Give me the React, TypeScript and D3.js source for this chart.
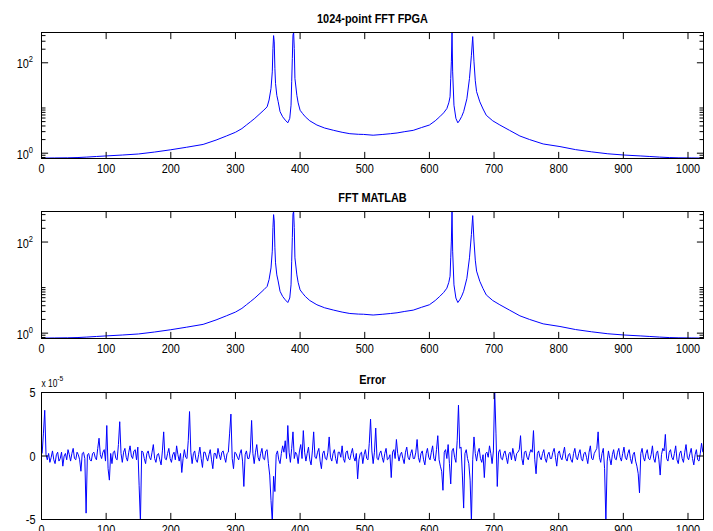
import React from 'react';
import * as d3 from 'd3';

const W = 713;
const H = 531;

// spectrum magnitude (sample index, |X|)
const specIdx = [
  1, 20, 40, 55, 70, 85, 100, 125, 150, 175, 200, 224, 250, 270, 286, 300, 310, 317, 323, 330,
  338, 344, 349, 352, 355, 357, 358, 359, 360, 361, 362, 364, 366, 369, 373, 377, 381, 384, 386, 387,
  388, 389, 390, 391, 392, 395, 397, 400, 404, 408, 415, 426, 438, 452, 465, 477, 490, 498, 513,
  528, 540, 550, 562, 575, 588, 600, 609, 616, 622, 627, 630, 632, 633, 634, 635, 636, 638, 641, 644,
  647, 650, 653, 658, 662, 665, 667, 669, 671, 673, 678, 683, 688, 698, 709, 724, 740, 755, 776, 802,
  826, 851, 876, 901, 926, 941, 956, 971, 986, 1006, 1024,
];
const specMag = [
  0.78, 0.785, 0.79, 0.8, 0.82, 0.845, 0.87, 0.91, 0.96, 1.06, 1.19, 1.35, 1.56, 1.95, 2.4, 2.9, 3.5, 4.2, 4.9, 5.9,
  7.5, 9, 10.6, 15, 27, 63, 207, 400, 290, 75, 35, 19, 14, 8.3, 6.4, 5.4, 4.7, 5.9, 11.5, 38,
  125, 410, 470, 207, 45, 19, 13, 8.9, 7.5, 6.4, 5.2, 4.2, 3.6, 3.2, 2.9, 2.7, 2.62, 2.6, 2.5,
  2.6, 2.7, 2.8, 3.0, 3.2, 3.7, 4.2, 5.2, 6.4, 7.8, 9.7, 13, 17.7, 45, 105, 470, 63, 11.5, 5.9, 4.7,
  5.4, 6.5, 8.3, 16, 45, 147, 380, 105, 40, 23, 13.7, 9.5, 6.9, 5.2, 4.2, 3.2, 2.4, 2.0, 1.6, 1.4,
  1.2, 1.07, 0.97, 0.91, 0.87, 0.845, 0.82, 0.8, 0.79, 0.785, 0.78,
];

// FPGA - MATLAB error in units of 1e-5, one reading every 2 samples from sample 1
const errStep = 2;
const errVals = [
  0.2, 1.8, 3.6, 0.1, -0.3, 0.2, -0.5, -0.1, 0.4, -0.3, -0.6, 0.1, 0.3, -0.4, -0.2, 0.3, -0.8, 0.0, 0.2, -0.3, 0.5, 0.1, -0.4, 0.2, 0.6, -0.2, -0.3, 0.3, 0.1, -0.3, -1.2, 0.2,
  0.3, -0.2, -4.5, 0.1, 0.2, -0.3, -0.4, 0.2, 0.3, -0.1, -0.3, 0.6, 1.4, 0.1, -0.2, 0.3, 0.5, -0.4, 2.4, -1.0, -1.9, 0.2, -0.6, 0.3, 0.4, -0.2, -0.3, 0.9, 2.7, 0.2, -0.5, 0.3,
  0.6, -0.1, -0.4, 0.3, 0.8, 0.0, -0.2, 0.4, 0.5, -0.3, 0.7, -2.3, -5.2, 0.4, 0.3, -0.2, -0.6, 0.2, 0.4, -0.1, -0.3, 0.3, 0.9, -0.2, -0.5, 0.1, 0.2, -0.3, -0.7, 0.4, 1.9, -0.2,
  -0.3, 0.2, 0.6, -0.2, -0.5, 0.1, 0.3, -0.3, 0.8, 0.1, -0.4, 0.2, -1.3, -0.2, 0.5, -0.1, -0.2, 1.2, 3.5, 0.3, -0.6, 0.2, 0.4, -0.3, -0.5, 0.1, 0.7, -0.2, -0.9, 0.3, 0.3, -0.1,
  -0.4, 0.1, 0.5, -0.3, -1.0, 0.2, 0.2, -0.2, 0.6, 0.1, -0.3, 0.3, 0.4, -0.1, -0.5, 0.2, 0.3, 1.8, 3.3, -0.2, -1.0, 0.3, 0.2, -0.1, -0.3, 0.2, 0.5, -0.4, -2.4, 0.1, 0.4, -0.2,
  -0.2, 0.4, 2.8, 0.2, -0.6, 0.3, 0.9, -0.1, -0.4, 0.2, 0.6, -0.2, -0.3, 0.4, 0.5, -0.6, -1.5, -3.5, -5.2, -1.6, -2.8, 0.1, 0.4, -0.3, -0.6, 0.2, 0.8, 0.3, 1.2, -0.2, 2.4, 0.3,
  -0.5, 0.6, 1.9, -0.2, 0.3, 0.1, -0.6, 0.4, 0.9, -0.2, 2.0, 0.3, -0.4, 0.2, 0.7, -0.3, -0.7, 0.4, 1.9, -0.1, -0.2, 0.3, 0.6, -0.4, -1.0, 0.2, 0.4, -0.2, -0.3, 0.3, 1.5, -0.1,
  -0.4, 0.2, 0.5, -0.2, -0.6, 0.3, 0.3, -0.1, 0.8, -0.2, -0.5, 0.3, 0.4, -0.2, -0.3, 0.2, 0.6, -0.1, -0.4, 0.2, -1.8, -0.3, 0.2, 0.3, -0.6, 0.1, 0.5, -0.2, -0.3, 1.0, 2.9, 0.4,
  -0.6, 0.3, 2.2, -0.2, -0.3, 0.2, 0.4, -0.1, -0.5, 0.2, 0.6, -0.3, -0.2, 0.1, -1.7, 0.3, 0.5, -0.2, 1.3, 0.2, -0.4, 0.1, 0.3, -0.2, -0.6, 0.3, 0.7, -0.1, -0.3, 0.2, 0.5, -0.2,
  -0.2, 0.3, 1.3, -0.1, -0.5, 0.2, 0.4, -0.3, -0.7, 0.2, 0.6, -0.1, -0.3, 0.3, 0.8, -0.2, -0.4, 0.5, 1.6, -0.3, -0.8, -1.2, -2.7, 0.3, 0.5, -0.2, 0.9, -0.6, -2.2, 0.4, 0.6, -0.1,
  -0.5, 1.2, 4.0, 0.6, 0.7, -1.5, -4.1, 0.2, 0.5, -0.2, -0.6, -1.9, -5.2, -0.3, 1.5, 0.2, -0.4, 0.3, 0.6, -0.2, -0.5, 0.1, -1.7, 0.2, 0.3, -0.1, 0.8, 0.2, -0.6, 0.4, 5.2, 1.8,
  -2.4, 0.3, 0.5, -0.2, -0.3, 0.2, 0.4, -0.1, -0.6, 0.2, 0.3, -0.3, 0.6, 0.1, -0.4, 0.2, 0.3, 0.5, 1.6, -0.2, -0.7, 0.3, 0.4, -0.1, -0.3, 0.2, 0.5, 0.3, 2.0, -0.3, -1.4, 0.2,
  0.4, -0.1, -0.3, 0.2, 0.5, -0.2, -0.5, 0.1, 0.3, -0.2, -0.2, 0.3, 0.6, -0.1, -0.8, 0.2, 0.4, -0.1, -0.3, 0.2, 0.7, -0.2, -0.4, 0.1, 0.2, -0.3, -0.5, 0.2, 0.6, -0.1, -0.3, 0.2,
  0.5, -0.2, -0.4, 0.2, 0.3, -0.1, -0.6, 0.3, 0.8, -0.2, -0.3, 0.2, 0.4, 0.6, 1.9, -0.1, -0.5, 0.2, 0.6, -1.0, -5.2, -0.4, 0.4, -0.2, -0.7, 0.1, 0.5, -0.2, -0.3, 0.3, 0.6, -0.1,
  -0.4, 0.2, 0.7, -0.1, -0.3, 0.2, 0.5, -0.2, -0.6, 0.1, 0.3, -0.4, -0.8, -1.4, -2.9, 0.2, 0.6, -0.1, -0.4, 0.2, 0.5, -0.2, -0.3, 0.1, 0.8, -0.2, -0.5, 0.2, 0.4, -0.3, -1.5, 0.1,
  0.6, 0.4, 1.7, -0.2, -0.4, 0.3, 0.5, -0.1, -0.3, 0.2, 0.8, -0.3, -0.6, 0.2, 0.4, -0.2, -0.5, 0.3, 0.9, -0.1, -0.3, 0.2, 0.6, -0.2, -0.7, 0.1, 0.5, -0.3, -0.4, 0.2, 1.0, 0.3,
];

const xTicks = [0, 100, 200, 300, 400, 500, 600, 700, 800, 900, 1000];
const logMajor = [1, 100];
const logMajorExp = ['0', '2'];
const logMinor = [0.8, 0.9, 2, 3, 4, 5, 6, 7, 8, 9, 10, 200, 300, 400];
const errTicks = [-5, 0, 5];

const FONT = '"Liberation Sans", Arial, Helvetica, sans-serif';
const SQ = 0.84; // labels in the picture are narrower than Arial
const LINE = '#0000ff';

const L = 41.5;
const R = 703.5;
const MAJ = 6.6;
const MIN = 4;

const x = d3.scaleLinear().domain([0, 1024]).range([L, R]);

const Txt = ({ x, y, anchor = 'middle', size = 13, bold = false, children }: any) => (
  <text
    transform={`translate(${x},${y}) scale(${SQ},1)`}
    textAnchor={anchor}
    fontSize={size}
    fontWeight={bold ? 'bold' : 'normal'}
    fontFamily={FONT}
    fill="#000"
  >
    {children}
  </text>
);

const XAxis = ({ top, bottom }: { top: number; bottom: number }) => (
  <g>
    {xTicks.map((t) => (
      <g key={t}>
        <line x1={x(t)} x2={x(t)} y1={bottom} y2={bottom - MAJ} stroke="#000" />
        <line x1={x(t)} x2={x(t)} y1={top} y2={top + MAJ} stroke="#000" />
        <Txt x={x(t)} y={bottom + 14.7}>{t}</Txt>
      </g>
    ))}
  </g>
);

const SpecPanel = ({ id, title, top, bottom }: { id: string; title: string; top: number; bottom: number }) => {
  const y = d3.scaleLog().domain([0.763, 468]).range([bottom, top]);
  const line = d3
    .line<number>()
    .x((_, i) => x(specIdx[i]))
    .y((d) => y(d));
  return (
    <g>
      <clipPath id={id}>
        <rect x={L} y={top} width={R - L} height={bottom - top} />
      </clipPath>
      <path d={line(specMag) || ''} fill="none" stroke={LINE} strokeWidth={1} clipPath={`url(#${id})`} />
      <rect x={L} y={top} width={R - L} height={bottom - top} fill="none" stroke="#000" />
      <XAxis top={top} bottom={bottom} />
      {logMinor.map((t) => (
        <g key={t}>
          <line x1={L} x2={L + MIN} y1={y(t)} y2={y(t)} stroke="#000" />
          <line x1={R} x2={R - MIN} y1={y(t)} y2={y(t)} stroke="#000" />
        </g>
      ))}
      {logMajor.map((t, i) => (
        <g key={t}>
          <line x1={L} x2={L + MAJ} y1={y(t)} y2={y(t)} stroke="#000" />
          <line x1={R} x2={R - MAJ} y1={y(t)} y2={y(t)} stroke="#000" />
          <Txt x={33} y={y(t) + 5.5} anchor="end">
            10<tspan fontSize={9} dy={-6}>{logMajorExp[i]}</tspan>
          </Txt>
        </g>
      ))}
      <Txt x={(L + R) / 2} y={top - 9.3} bold>{title}</Txt>
    </g>
  );
};

const ErrPanel = ({ top, bottom }: { top: number; bottom: number }) => {
  const y = d3.scaleLinear().domain([-5, 5]).range([bottom, top]);
  const line = d3
    .line<number>()
    .x((_, i) => x(1 + i * errStep))
    .y((d) => y(d));
  return (
    <g>
      <clipPath id="errclip">
        <rect x={L} y={top} width={R - L} height={bottom - top} />
      </clipPath>
      <path d={line(errVals) || ''} fill="none" stroke={LINE} strokeWidth={1} clipPath="url(#errclip)" />
      <rect x={L} y={top} width={R - L} height={bottom - top} fill="none" stroke="#000" />
      <XAxis top={top} bottom={bottom} />
      {errTicks.map((t) => (
        <g key={t}>
          <line x1={L} x2={L + MAJ} y1={y(t)} y2={y(t)} stroke="#000" />
          <line x1={R} x2={R - MAJ} y1={y(t)} y2={y(t)} stroke="#000" />
          <Txt x={35.5} y={y(t) + 4.6} anchor="end">{t}</Txt>
        </g>
      ))}
      <Txt x={41.5} y={top - 5.3} anchor="start" size={10}>
        x 10<tspan fontSize={8} dy={-6}>-5</tspan>
      </Txt>
      <Txt x={(L + R) / 2} y={top - 8.3} bold>Error</Txt>
    </g>
  );
};

export default function App() {
  return (
    <div style={{ position: 'absolute', left: 0, top: 0, width: W, height: H, background: '#fff' }}>
      <svg width={W} height={H} style={{ display: 'block' }}>
        <rect width={W} height={H} fill="#fff" />
        <SpecPanel id="c1" title="1024-point FFT FPGA" top={32.5} bottom={158.5} />
        <SpecPanel id="c2" title="FFT MATLAB" top={211.5} bottom={338.5} />
        <ErrPanel top={392.5} bottom={519.5} />
      </svg>
    </div>
  );
}
